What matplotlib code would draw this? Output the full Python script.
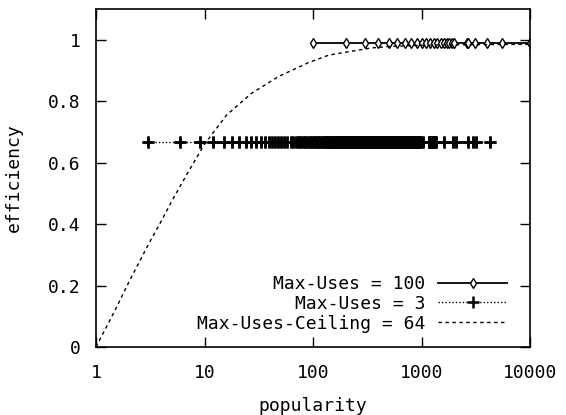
import matplotlib
matplotlib.use("Agg")
import matplotlib.pyplot as plt

plt.rcParams['font.family'] = ['DejaVu Sans Mono']
plt.rcParams['font.size'] = 13

# popularity values observed for each run
pop_max100 = [100, 200, 300, 400, 500, 600, 700, 800, 900, 1000, 1100, 1200,
              1300, 1400, 1500, 1600, 1700, 1800, 1900, 2000, 2600, 2700,
              3100, 4000, 5500, 10000]
eff_max100 = [0.99] * len(pop_max100)

pop_max3 = [3, 6, 9, 12, 15, 18, 21, 24, 27, 30, 33, 36, 39, 42, 45, 48,
            51, 54, 57,
            63, 66, 69, 72, 75, 78, 81, 84, 87, 90, 93, 96, 99, 102, 105, 108,
            111, 114, 117, 120, 123, 126, 129, 132, 135, 138, 141, 144, 147,
            150, 153, 156, 159, 162, 165, 168, 171, 174, 177, 180, 183, 186,
            189, 192, 195, 198, 201, 204, 207, 210, 213, 216, 219, 222, 225,
            228, 231, 234, 237, 240, 243, 246, 249, 252, 255, 258, 261, 264,
            267, 270, 273, 276, 279, 282, 285, 288, 291, 294, 297, 300,
            306, 312, 318, 324, 330, 336, 342, 348, 354, 360, 366, 372, 378,
            384, 390, 396, 402, 408, 414, 420, 426, 432, 438, 444, 450, 456,
            462, 468, 474, 480, 486, 492, 498, 504, 510, 516, 522, 528, 534,
            540, 546, 552, 558, 564, 570, 576, 582, 588, 594, 600, 606, 612,
            618, 624, 630, 636,
            663, 669, 675, 681, 687, 693, 699, 705, 711, 717, 723, 729, 735,
            741, 750, 759, 768, 777, 786, 795, 804, 813, 822, 831, 840, 849,
            858, 867, 876, 885, 894, 903, 912, 921, 930, 939, 948, 957, 966,
            975, 981,
            1041, 1170, 1185, 1200, 1215, 1230, 1245, 1260, 1275, 1290, 1305,
            1320, 1335, 1350, 1599, 1965, 2100, 2700, 2955, 3204, 4299]
eff_max3 = [0.667] * len(pop_max3)

pop_ceiling = [1, 1.5, 2, 3, 4, 5, 6, 7.5, 10, 16, 27, 48, 90, 140, 250, 340,
               500, 1000, 3000, 10000]
eff_ceiling = [0.0, 0.12, 0.21, 0.33, 0.41, 0.475, 0.525, 0.585, 0.66, 0.755,
               0.825, 0.88, 0.925, 0.95, 0.965, 0.973, 0.978, 0.982, 0.984,
               0.985]

xticks = [1, 10, 100, 1000, 10000]
yticks = [0, 0.2, 0.4, 0.6, 0.8, 1]

fig = plt.figure(figsize=(5.66, 4.15), dpi=100)
ax = fig.add_axes([96 / 566, 1 - 347 / 415, 434 / 566, 338 / 415])

ax.plot(pop_max100, eff_max100, color='black', lw=1.3, marker='d',
        markersize=5, mfc='white', mec='black', mew=1.0,
        label='Max-Uses = 100')
ax.plot(pop_max3, eff_max3, color='black', lw=1.0, ls=(0, (1, 1.5)),
        marker='+', markersize=8, mew=1.8, label='Max-Uses = 3')
# redraw the crosses as a collection so the crowded stretch fills solid
ax.scatter(pop_max3, eff_max3, marker='+', s=64, linewidths=1.8,
           color='black', zorder=3)
ax.plot(pop_ceiling, eff_ceiling, color='black', lw=1.0, ls=(0, (2.5, 2.5)),
        label='Max-Uses-Ceiling = 64')

ax.set_xscale('log')
ax.set_xlim(1, 10000)
ax.set_ylim(0, 1.1)
ax.set_xticks(xticks)
ax.set_xticklabels([str(t) for t in xticks])
ax.minorticks_off()
ax.set_yticks(yticks)
ax.set_yticklabels(['0', '0.2', '0.4', '0.6', '0.8', '1'])
ax.tick_params(direction='in', length=7, width=1, top=True, right=True)
ax.tick_params(axis='y', pad=11)
ax.tick_params(axis='x', pad=12)
for s in ax.spines.values():
    s.set_linewidth(1.2)

ax.set_xlabel('popularity', labelpad=11)
ax.set_ylabel('efficiency', labelpad=18)

ax.legend(loc='lower right', frameon=False, markerfirst=False,
          handlelength=3.8, handletextpad=0.7, labelspacing=0.1,
          borderaxespad=0.4, bbox_to_anchor=(0.98, 0.0))

fig.savefig('out.png', dpi=100)
